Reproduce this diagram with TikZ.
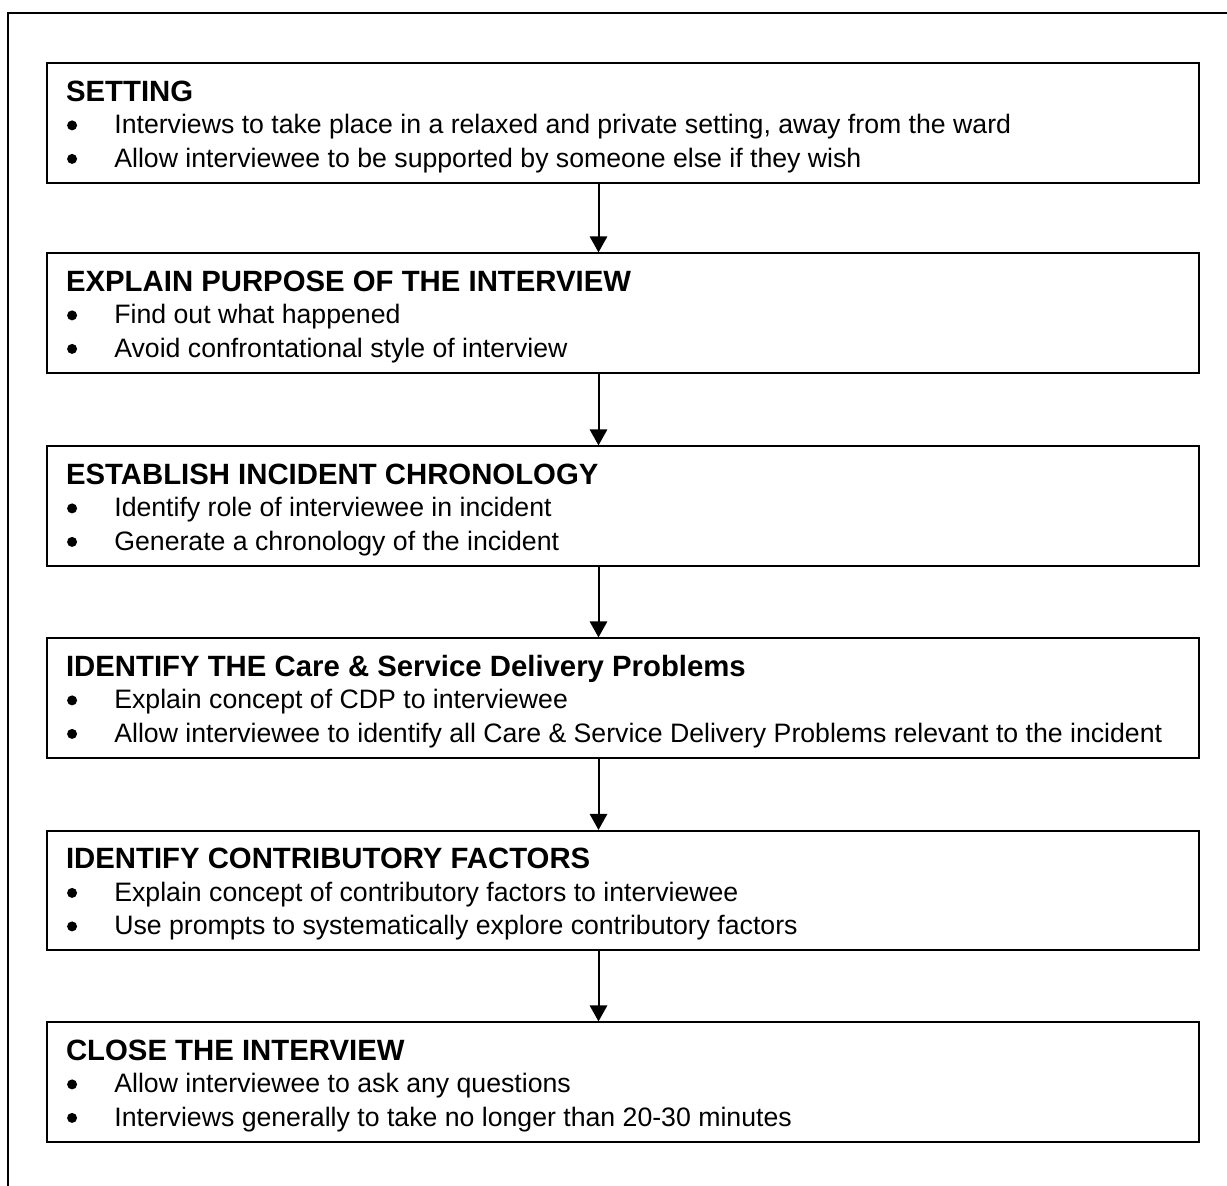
\documentclass[tikz,border=0pt]{standalone}
\usepackage{fontspec}
\setmainfont{Liberation Sans}
\usetikzlibrary{arrows.meta,calc}
\newcommand\flowbox[5]{%
  \node[stepbox] (#1) at (622.85,#2) {};
  \node[titletext] (#1t) at ($(#1.north west)+(20,39)$) {#3};
  \node[bulletdot] (#1b1) at ($(#1.north west)+(26.3,63)$) {};
  \node[bodytext] (#1l1) at ($(#1.north west)+(68.3,71.5)$) {#4};
  \node[bulletdot] (#1b2) at ($(#1.north west)+(26.3,96.5)$) {};
  \node[bodytext] (#1l2) at ($(#1.north west)+(68.3,105)$) {#5};
}
\begin{document}
\begin{tikzpicture}[x=0.75pt,y=-0.75pt,
  stepbox/.style={draw, line width=1.4pt, minimum width=864.2pt, minimum height=89.5pt, inner sep=0pt},
  titletext/.style={anchor=base west, inner sep=0pt, font=\fontsize{22}{26}\selectfont\bfseries},
  bodytext/.style={anchor=base west, inner sep=0pt, font=\fontsize{20}{24}\selectfont},
  bulletdot/.style={circle, fill, inner sep=0pt, minimum size=7.5pt},
  flowarrow/.style={line width=1.5pt, -{Triangle[length=12pt,width=13pt]}},
  frame/.style={line width=1.8pt}]
\useasboundingbox (0,0) rectangle (1227,1185);
\coordinate (fbl) at (8,1190);
\coordinate (ftl) at (8,13);
\coordinate (ftr) at (1232,13);
\draw[frame] (fbl) -- (ftl) -- (ftr);
\coordinate (ax) at (598.5,0);
\flowbox{b1}{123}{SETTING}{Interviews to take place in a relaxed and private setting, away from the ward}{Allow interviewee to be supported by someone else if they wish}
\flowbox{b2}{313}{EXPLAIN PURPOSE OF THE INTERVIEW}{Find out what happened}{Avoid confrontational style of interview}
\flowbox{b3}{506}{ESTABLISH INCIDENT CHRONOLOGY}{Identify role of interviewee in incident}{Generate a chronology of the incident}
\flowbox{b4}{698}{IDENTIFY THE Care \& Service Delivery Problems}{Explain concept of CDP to interviewee}{Allow interviewee to identify all Care \& Service Delivery Problems relevant to the incident}
\flowbox{b5}{890.5}{IDENTIFY CONTRIBUTORY FACTORS}{Explain concept of contributory factors to interviewee}{Use prompts to systematically explore contributory factors}
\flowbox{b6}{1082}{CLOSE THE INTERVIEW}{Allow interviewee to ask any questions}{Interviews generally to take no longer than 20-30 minutes}
\draw[flowarrow] (b1.south -| ax) -- (b2.north -| ax);
\draw[flowarrow] (b2.south -| ax) -- (b3.north -| ax);
\draw[flowarrow] (b3.south -| ax) -- (b4.north -| ax);
\draw[flowarrow] (b4.south -| ax) -- (b5.north -| ax);
\draw[flowarrow] (b5.south -| ax) -- (b6.north -| ax);
\end{tikzpicture}
\end{document}
